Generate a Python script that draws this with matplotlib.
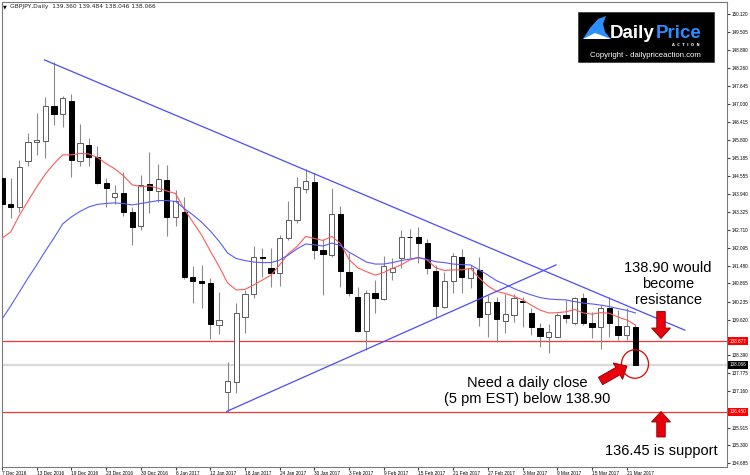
import matplotlib as mpl
mpl.use('Agg')  # headless
import matplotlib.pyplot as plt
import matplotlib.patches as mpatches
import numpy as np

# ---------------- data ----------------
opens = [144.48, 143.58, 143.50, 145.08, 145.71, 145.77, 146.97, 146.69, 147.13, 145.08,
         145.62, 145.22, 144.33, 143.84, 143.98, 143.33, 142.84, 144.28, 144.05, 144.42,
         143.13, 143.33, 141.08, 140.96, 140.89, 139.44, 137.12, 137.49, 139.70, 140.50,
         141.78, 141.38, 141.23, 142.42, 143.04, 144.10, 144.36, 142.01, 141.84, 143.25,
         141.27, 140.41, 139.24, 140.53, 140.32, 141.27, 141.73, 142.47, 142.47, 142.26,
         141.30, 140.04, 140.95, 141.78, 141.04, 141.33, 139.81, 140.24, 139.58, 139.78,
         140.27, 139.84, 139.32, 139.04, 139.04, 139.78, 139.50, 140.35, 139.50, 139.36,
         140.01, 139.40, 139.09, 139.360]
highs = [144.56, 144.48, 145.11, 146.02, 146.71, 147.28, 148.47, 147.30, 147.36, 146.34,
         145.85, 145.59, 144.48, 144.25, 144.70, 143.50, 144.59, 145.39, 144.96, 144.93,
         144.07, 143.84, 141.46, 141.50, 141.04, 140.58, 138.18, 140.18, 140.64, 142.15,
         142.07, 142.07, 142.53, 143.71, 144.53, 144.79, 144.67, 142.38, 144.13, 143.52,
         141.90, 140.75, 140.64, 140.98, 141.81, 141.73, 142.70, 142.72, 142.81, 142.38,
         141.50, 141.27, 141.90, 142.04, 141.50, 141.78, 140.47, 140.41, 140.50, 140.50,
         140.41, 140.01, 139.52, 139.47, 139.86, 140.30, 140.41, 140.53, 139.89, 140.12,
         140.41, 139.95, 140.01, 139.484]
lows = [142.99, 143.10, 143.33, 144.90, 145.28, 145.16, 146.31, 146.25, 144.51, 144.90,
        144.90, 144.28, 143.50, 143.59, 143.18, 142.19, 142.70, 143.28, 143.67, 142.49,
        142.84, 141.02, 140.18, 140.01, 138.95, 139.13, 136.46, 137.09, 139.15, 140.35,
        141.10, 140.75, 140.78, 142.36, 142.93, 143.96, 141.69, 140.47, 141.78, 140.75,
        140.43, 139.21, 138.58, 139.84, 140.30, 140.98, 141.38, 141.73, 141.56, 141.19,
        139.67, 140.01, 140.53, 140.53, 140.70, 139.40, 139.03, 138.86, 139.15, 139.55,
        139.38, 139.09, 138.69, 138.46, 139.01, 139.52, 139.44, 139.44, 138.98, 138.60,
        139.04, 138.92, 138.92, 138.046]
closes = [143.59, 143.50, 144.88, 145.71, 145.79, 146.97, 146.69, 147.25, 145.11, 145.70,
          145.20, 144.30, 144.13, 143.98, 143.33, 142.81, 144.25, 144.07, 144.44, 143.16,
          143.71, 141.08, 140.96, 140.89, 139.47, 139.61, 137.51, 139.84, 140.50, 141.76,
          141.75, 141.23, 142.44, 143.04, 144.17, 144.39, 142.01, 141.87, 143.25, 141.30,
          140.53, 139.24, 140.53, 140.35, 141.46, 141.38, 142.47, 142.45, 142.26, 141.38,
          140.09, 140.95, 141.81, 141.08, 141.38, 139.72, 140.24, 139.63, 139.80, 140.35,
          140.23, 139.38, 139.06, 139.21, 139.78, 139.67, 140.35, 139.50, 139.36, 140.01,
          139.50, 139.09, 139.40, 138.066]

# red (fast) and blue (slow) moving averages as drawn on the chart
ma_fast = [142.42, 142.63, 143.20, 143.70, 144.18, 144.62, 144.98, 145.28, 145.28, 145.33,
           145.31, 145.19, 144.98, 144.80, 144.56, 144.25, 144.19, 144.21, 144.13, 144.04,
           143.95, 143.42, 142.97, 142.53, 141.98, 141.46, 140.88, 140.64, 140.66, 140.81,
           140.98, 141.15, 141.50, 141.89, 142.13, 142.48, 142.41, 142.34, 142.48, 142.24,
           141.69, 141.40, 141.27, 141.15, 141.24, 141.38, 141.50, 141.67, 141.76, 141.67,
           141.40, 141.31, 141.33, 141.33, 141.38, 141.05, 140.78, 140.59, 140.52, 140.42,
           140.30, 140.12, 139.95, 139.85, 139.86, 139.89, 139.97, 139.85, 139.81, 139.86,
           139.84, 139.71, 139.61, 139.44]
ma_slow = [139.64, 140.09, 140.57, 141.05, 141.50, 141.98, 142.43, 142.91, 143.15, 143.34,
           143.49, 143.58, 143.61, 143.63, 143.61, 143.56, 143.61, 143.66, 143.71, 143.71,
           143.68, 143.44, 143.22, 142.97, 142.67, 142.32, 141.91, 141.72, 141.65, 141.60,
           141.58, 141.58, 141.67, 141.84, 142.05, 142.22, 142.19, 142.15, 142.25, 142.17,
           141.94, 141.77, 141.60, 141.53, 141.53, 141.58, 141.65, 141.70, 141.75, 141.69,
           141.61, 141.58, 141.53, 141.51, 141.50, 141.33, 141.15, 140.96, 140.83, 140.69,
           140.57, 140.47, 140.38, 140.33, 140.31, 140.30, 140.24, 140.19, 140.16, 140.12,
           140.07, 140.00, 139.94, 139.85]

date_labels = ['7 Dec 2016', '13 Dec 2016', '19 Dec 2016', '23 Dec 2016', '30 Dec 2016',
               '6 Jan 2017', '12 Jan 2017', '18 Jan 2017', '24 Jan 2017', '30 Jan 2017',
               '3 Feb 2017', '9 Feb 2017', '15 Feb 2017', '21 Feb 2017', '27 Feb 2017',
               '3 Mar 2017', '9 Mar 2017', '15 Mar 2017', '21 Mar 2017']
price_ticks = [150.120, 149.505, 148.890, 148.260, 147.645, 147.030, 146.415, 145.800,
               145.185, 144.555, 143.940, 143.325, 142.710, 142.095, 141.480, 140.865,
               140.235, 139.620, 139.005, 138.390, 137.775, 137.160, 136.545, 135.915,
               135.300, 134.685]

resistance = 138.877
support = 136.450
last_price = 138.066
# trend lines: (bar index, price) end points
down_trend = ([4.9, 78.7], [148.54, 139.26])
up_trend = ([25.9, 63.85], [136.47, 141.50])

# ---------------- chart ----------------
fig = plt.figure(figsize=(7.5, 4.75), dpi=100)
ax = fig.add_axes([2 / 750, 8 / 475, 725 / 750, 465 / 475])

x = np.arange(len(opens))
o = np.array(opens)
c = np.array(closes)
bull = c >= o
body = np.maximum(np.abs(c - o), 0.025)

ax.axhline(last_price, color='#dadada', lw=1.6, zorder=1)
ax.axhline(resistance, color='#ff3434', lw=0.9, zorder=1)
ax.axhline(support, color='#ff3434', lw=0.9, zorder=1)

ax.vlines(x, lows, highs, color='#8a8a8a', lw=0.8, zorder=2)
ax.bar(x[bull], body[bull], bottom=o[bull], width=0.6, color='white',
       edgecolor='#5a5a5a', lw=0.7, zorder=3)
ax.bar(x[~bull], body[~bull], bottom=c[~bull], width=0.6, color='black',
       edgecolor='black', lw=0.7, zorder=3)

ax.plot(x, ma_fast, color='#ff5a5a', lw=0.8, zorder=4)
ax.plot(x, ma_slow, color='#5a5aff', lw=0.8, zorder=4)
ax.plot(down_trend[0], down_trend[1], color='#4b4bff', lw=0.9, zorder=4)
ax.plot(up_trend[0], up_trend[1], color='#4b4bff', lw=0.9, zorder=4)

ax.set_xlim(0.035, 83.56)
ax.set_ylim(134.56, 150.53)

ax.set_xticks(range(0, 4 * len(date_labels), 4))
ax.set_xticklabels(date_labels, ha='left', family='Liberation Sans')
ax.tick_params(axis='x', length=2, pad=1, labelsize=3.4, color='#404040')
ax.yaxis.tick_right()
ax.set_yticks(price_ticks)
# the two ticks hidden behind the red price boxes keep no label
hidden = (139.005, 136.545)
ax.set_yticklabels(['' if p in hidden else '%.3f' % p for p in price_ticks],
                   family='Liberation Sans')
ax.tick_params(axis='y', length=2, pad=1.5, labelsize=3.3, color='#404040')
for s in ax.spines.values():
    s.set_color('#7a7a7a')
    s.set_linewidth(0.8)

ytr = ax.get_yaxis_transform()
for val, bg in [(resistance, '#ff0000'), (support, '#ff0000'), (last_price, 'black')]:
    ax.text(1.0035, val, '%.3f' % val, transform=ytr, ha='left', va='center',
            fontsize=3.3, color='white', clip_on=False, zorder=10, family='Liberation Sans',
            bbox=dict(boxstyle='square,pad=0.3', fc=bg, ec='none'))

# ---------------- overlay in pixel coords ----------------
ov = fig.add_axes([0, 0, 1, 1])
ov.set_xlim(0, 750)
ov.set_ylim(475, 0)
ov.axis('off')
ov.patch.set_alpha(0)

ov.text(3, 6.5, '\u25bc', fontsize=3.5, va='center', family='DejaVu Sans')
ov.text(10, 6.5, 'GBPJPY,Daily  139.360 139.484 138.046 138.066', fontsize=4.3,
        va='center', family='DejaVu Sans', color='#222222')

# logo
ov.add_patch(mpatches.Rectangle((578, 12), 136, 50, fc='black', ec='#333333', lw=0.5))
ov.add_patch(mpatches.Polygon([(583, 39), (590, 28), (598, 19), (606, 16), (603, 24),
                               (605, 32), (611, 39)], closed=True, fc='#2d8fff', ec='none'))
ov.add_patch(mpatches.Polygon([(583, 39), (595, 33), (611, 39)], closed=True,
                              fc='white', ec='none'))
ov.text(610, 38.5, 'Daily', fontsize=13.5, fontweight='bold', color='white',
        family='Liberation Sans', va='baseline')
ov.text(655.5, 38.5, 'Price', fontsize=13.5, fontweight='bold', color='#2a8cff',
        family='Liberation Sans', va='baseline')
ov.text(686, 46.5, 'A  C  T  I  O  N', fontsize=2.6, color='white', ha='center',
        family='DejaVu Sans', va='baseline', fontweight='bold')
ov.text(645.5, 57, 'Copyright - dailypriceaction.com', fontsize=5.6, color='white',
        ha='center', va='baseline', family='Liberation Sans')

# annotations
tkw = dict(fontsize=10.5, family='Liberation Sans', ha='center', va='baseline', color='black')
ov.text(668, 271.5, '138.90 would', **tkw)
ov.text(668, 288, 'become', **tkw)
ov.text(668, 304.5, 'resistance', **tkw)
ov.text(527.5, 387, 'Need a daily close', **tkw)
ov.text(527.5, 403.5, '(5 pm EST) below 138.90', **tkw)
ov.text(661, 455.5, '136.45 is support', **tkw)

akw = dict(width=8.5, head_width=19, head_length=10.5, length_includes_head=True,
           fc='#e8000e', ec='#8e0000', lw=0.6)
ov.add_patch(mpatches.FancyArrow(661, 311.5, 0, 27, **akw))
ov.add_patch(mpatches.FancyArrow(661, 437, 0, -25.5, **akw))
ov.add_patch(mpatches.FancyArrow(600.5, 381, 26.5, -15, **akw))
ov.add_patch(mpatches.Ellipse((635, 364), 27, 28.5, fc='none', ec='#e00000', lw=0.9))

fig.savefig('out.png', dpi=100)
